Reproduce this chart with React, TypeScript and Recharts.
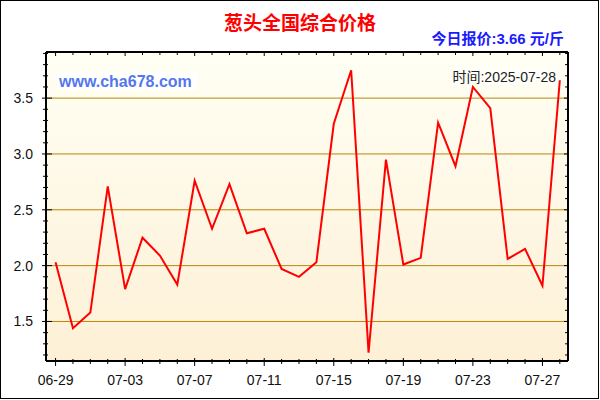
import React from 'react';
import { LineChart, Line, XAxis, YAxis, ReferenceLine, CartesianGrid } from 'recharts';

const dates = ['06-29','06-30','07-01','07-02','07-03','07-04','07-05','07-06','07-07','07-08','07-09','07-10','07-11','07-12','07-13','07-14','07-15','07-16','07-17','07-18','07-19','07-20','07-21','07-22','07-23','07-24','07-25','07-26','07-27','07-28'];
const prices = [2.03,1.44,1.58,2.71,1.79,2.25,2.09,1.83,2.76,2.33,2.73,2.29,2.33,1.97,1.90,2.03,3.27,3.75,1.22,2.95,2.01,2.07,3.28,2.89,3.60,3.41,2.06,2.15,1.82,3.66];
const yTicks = [1.2,1.3,1.4,1.5,1.6,1.7,1.8,1.9,2.0,2.1,2.2,2.3,2.4,2.5,2.6,2.7,2.8,2.9,3.0,3.1,3.2,3.3,3.4,3.5,3.6,3.7,3.8,3.9];
const yLabels = [1.5,2.0,2.5,3.0,3.5];
const gridValues = [1.5,2.0,2.5,3.0,3.5];
const titleText = '葱头全国综合价格';
const todayText = '今日报价:3.66 元/斤';
const siteText = 'www.cha678.com';
const timeText = '时间:2025-07-28';

const xIdx = dates.map((_, i) => i);
const table = dates.map((d, i) => ({ i, date: d, price: prices[i] }));
const X_DOMAIN: [number, number] = [-0.55, 29.47];
const Y_DOMAIN: [number, number] = [1.146, 3.913];
const FONT = '"Liberation Sans", Arial, "Noto Sans CJK SC", sans-serif';

const isLabel = (v: number) => yLabels.some((l) => Math.abs(l - v) < 1e-6);

const BottomTick = (props: any) => {
  const { x, y, payload } = props;
  const major = payload.value % 4 === 0;
  return (
    <g>
      <line x1={x} x2={x} y1={y - (major ? 3 : 2)} y2={y + (major ? 5 : 3)} stroke="#000" strokeWidth={1} />
      {major && (
        <text x={x} y={y + 24} textAnchor="middle" fontSize={14} fontFamily={FONT} fill="#111">
          {dates[payload.value]}
        </text>
      )}
    </g>
  );
};

const TopTick = (props: any) => {
  const { x, y, payload } = props;
  const major = payload.value % 4 === 0;
  return <line x1={x} x2={x} y1={y} y2={y + (major ? 4 : 3)} stroke="#000" strokeWidth={1} />;
};

const LeftTick = (props: any) => {
  const { x, y, payload } = props;
  const major = isLabel(payload.value);
  return (
    <g>
      <line x1={x - (major ? 4 : 3)} x2={x + (major ? 6 : 2)} y1={y} y2={y} stroke="#000" strokeWidth={1} />
      {major && (
        <text x={x - 13} y={y + 5} textAnchor="end" fontSize={14} fontFamily={FONT} fill="#111">
          {payload.value.toFixed(1)}
        </text>
      )}
    </g>
  );
};

const RightTick = (props: any) => {
  const { x, y, payload } = props;
  const major = isLabel(payload.value);
  return <line x1={x - (major ? 4 : 3)} x2={x} y1={y} y2={y} stroke="#000" strokeWidth={1} />;
};

export default function App() {
  return (
    <div style={{ position: 'relative', width: 600, height: 400, background: '#fff' }}>
      <style>{`body{margin:0}`}</style>
      <svg width={0} height={0} style={{ position: 'absolute' }}>
        <defs>
          <linearGradient id="plotbg" x1="0" y1="0" x2="0" y2="1">
            <stop offset="0%" stopColor="#fffff4" />
            <stop offset="100%" stopColor="#fdf0d6" />
          </linearGradient>
        </defs>
      </svg>
      <LineChart width={600} height={400} data={table} margin={{ top: 0, right: 0, bottom: 0, left: 0 }}>
        <CartesianGrid horizontal={false} vertical={false} fill="url(#plotbg)" stroke="none" />
        <XAxis
          dataKey="i"
          type="number"
          domain={X_DOMAIN}
          ticks={xIdx}
          interval={0}
          height={39}
          tickSize={0}
          tickMargin={0}
          tickLine={false}
          tick={<BottomTick />}
          axisLine={{ stroke: '#000', strokeWidth: 2 }}
          allowDataOverflow
        />
        <XAxis
          xAxisId="top"
          orientation="top"
          dataKey="i"
          type="number"
          domain={X_DOMAIN}
          ticks={xIdx}
          interval={0}
          height={52}
          tickSize={0}
          tickMargin={0}
          tickLine={false}
          tick={<TopTick />}
          axisLine={{ stroke: '#000', strokeWidth: 2 }}
          allowDataOverflow
        />
        <YAxis
          type="number"
          domain={Y_DOMAIN}
          ticks={yTicks}
          interval={0}
          width={46}
          tickSize={0}
          tickMargin={0}
          tickLine={false}
          tick={<LeftTick />}
          axisLine={{ stroke: '#000', strokeWidth: 2 }}
          allowDataOverflow
        />
        <YAxis
          yAxisId="right"
          orientation="right"
          type="number"
          domain={Y_DOMAIN}
          ticks={yTicks}
          interval={0}
          width={32}
          tickSize={0}
          tickMargin={0}
          tickLine={false}
          tick={<RightTick />}
          axisLine={{ stroke: '#000', strokeWidth: 2 }}
          allowDataOverflow
        />
        {gridValues.map((v) => (
          <ReferenceLine key={v} y={v} stroke="#b8860b" strokeWidth={1} />
        ))}
        <Line
          dataKey="price"
          type="linear"
          stroke="#ff0000"
          strokeWidth={2}
          dot={false}
          activeDot={false}
          isAnimationActive={false}
        />
      </LineChart>
      <svg width={600} height={400} style={{ position: 'absolute', left: 0, top: 0, pointerEvents: 'none' }}>
        <text x={300} y={30} textAnchor="middle" fontSize={19} fontWeight="bold" fill="#ff0000" fontFamily={FONT}>
          {titleText}
        </text>
        <text x={564} y={44} textAnchor="end" fontSize={15} fontWeight="bold" fill="#1a1aff" fontFamily={FONT}>
          {todayText}
        </text>
        <rect x={57} y={72} width={140} height={18} fill="#ffffff" opacity={0.85} />
        <text x={59} y={86.5} fontSize={16} fontWeight="bold" fill="#5577ee" fontFamily={FONT}>
          {siteText}
        </text>
        <rect x={451} y={68} width={107} height={17} fill="#ffffff" opacity={0.6} />
        <text x={556} y={82} textAnchor="end" fontSize={14} fill="#222" fontFamily={FONT}>
          {timeText}
        </text>
      </svg>
      <div style={{ position: 'absolute', left: 0, top: 0, width: 599, height: 399, borderRight: '1px solid #000', borderBottom: '1px solid #000', borderLeft: '1px solid #000', borderTop: '1px solid #000', boxSizing: 'border-box', pointerEvents: 'none' }} />
    </div>
  );
}
